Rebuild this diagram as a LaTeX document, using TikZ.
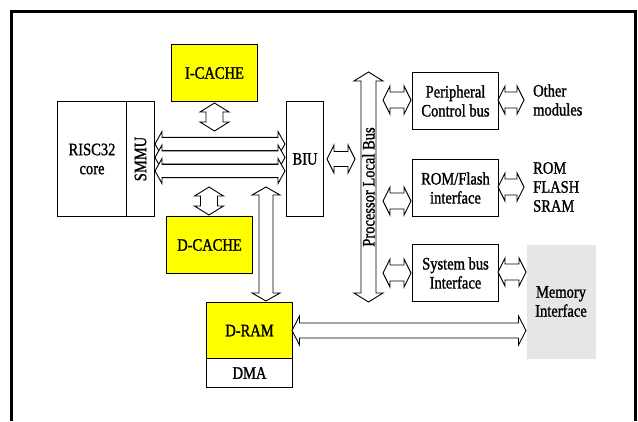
\documentclass[tikz,border=0pt]{standalone}
\usepackage{fontspec}
\setmainfont{Liberation Serif}[FakeStretch=0.83,FakeBold=1.2]
\usetikzlibrary{calc}
\definecolor{cyel}{HTML}{FFFF00}
\definecolor{cgrey}{HTML}{E6E6E6}
\newcommand\fs{\fontsize{17.5}{19}\selectfont}
% horizontal double arrow: left pt, right pt (y from left), body half, head half, head length
\newcommand\harr[5]{%
 \filldraw[darr] let \p1=(#1), \p2=(#2) in
  (\x1,\y1) -- (\x1+#5pt,\y1+#4pt) -- (\x1+#5pt,\y1+#3pt) -- (\x2-#5pt,\y1+#3pt) -- (\x2-#5pt,\y1+#4pt) -- (\x2,\y1)
  -- (\x2-#5pt,\y1-#4pt) -- (\x2-#5pt,\y1-#3pt) -- (\x1+#5pt,\y1-#3pt) -- (\x1+#5pt,\y1-#4pt) -- cycle;}
% vertical double arrow: top pt, bottom pt (x from top)
\newcommand\varr[5]{%
 \filldraw[darr] let \p1=(#1), \p2=(#2) in
  (\x1,\y1) -- (\x1+#4pt,\y1-#5pt) -- (\x1+#3pt,\y1-#5pt) -- (\x1+#3pt,\y2+#5pt) -- (\x1+#4pt,\y2+#5pt) -- (\x1,\y2)
  -- (\x1-#4pt,\y2+#5pt) -- (\x1-#3pt,\y2+#5pt) -- (\x1-#3pt,\y1-#5pt) -- (\x1-#4pt,\y1-#5pt) -- cycle;}
\tikzset{
 darr/.style={fill=white, draw=black, line width=0.9pt, line join=miter},
 box/.style={draw, line width=1pt, inner sep=0pt, anchor=north west, align=center, font=\fs},
 lbl/.style={inner sep=0pt, anchor=west, align=left, font=\fs}
}
\begin{document}
\begin{tikzpicture}[x=1pt,y=-1pt]
\useasboundingbox (0,0) rectangle (638,421);
\draw[line width=3pt] (11.5,421) -- (11.5,11) -- (635,11) -- (635,421);

% boxes
\node[box, minimum width=86, minimum height=57, fill=cyel] (icache) at (171,44) {I-CACHE};
\node[box, minimum width=69, minimum height=115] (risc) at (57,101) {RISC32\\core};
\node[box, minimum width=28, minimum height=115] (smmu) at (126,101) {\rotatebox{90}{SMMU}};
\node[box, minimum width=37, minimum height=115] (biu) at (286,101) {BIU};
\node[box, minimum width=86, minimum height=57, fill=cyel] (dcache) at (166,216) {D-CACHE};
\node[box, minimum width=86, minimum height=56, fill=cyel] (dram) at (206,302) {D-RAM};
\node[box, minimum width=86, minimum height=29] (dma) at (206,358) {DMA};
\node[box, minimum width=86, minimum height=57] (pcb) at (412,72) {Peripheral\\Control bus};
\node[box, minimum width=86, minimum height=57] (rom) at (412,159) {ROM/Flash\\interface};
\node[box, minimum width=86, minimum height=57] (sbi) at (412,244) {System bus\\Interface};
\node[box, draw=none, fill=cgrey, minimum width=69, minimum height=114] (memif) at (526,244) {Memory\\Interface};

\node[lbl] (other) at (533,100) {Other\\modules};
\node[lbl] (romlbl) at (533,187) {ROM\\FLASH\\SRAM};

% coordinates for arrow ends
\coordinate (bus1l) at (155,144); \coordinate (bus1r) at (285,144);
\coordinate (bus2l) at (155,157.5); \coordinate (bus2r) at (285,157.5);
\coordinate (bus3l) at (155,171); \coordinate (bus3r) at (285,171);
\coordinate (icb) at (214,131);
\coordinate (dct) at (209,187);
\coordinate (drt) at (266,187);
\coordinate (biua) at (327,159); \coordinate (plba) at (355,159);
\coordinate (plbt) at (368.5,72); \coordinate (plbb) at (368.5,302);
\coordinate (p1l) at (383,100); \coordinate (p1r) at (411,100);
\coordinate (p2l) at (498,100); \coordinate (p2r) at (524,100);
\coordinate (r1l) at (383,201); \coordinate (r1r) at (411,201);
\coordinate (r2l) at (498,187); \coordinate (r2r) at (524,187);
\coordinate (s1l) at (383,273); \coordinate (s1r) at (411,273);
\coordinate (s2l) at (498,272); \coordinate (s2r) at (526,272);
\coordinate (dml) at (292,330.5); \coordinate (dmr) at (526,330.5);

% bus arrows
\harr{bus1l}{bus1r}{6.6}{12.5}{7}
\harr{bus2l}{bus2r}{6.6}{12.5}{7}
\harr{bus3l}{bus3r}{6.6}{12.5}{7}
% vertical arrows
\varr{$(icache.south)+(0,1)$}{icb}{8.5}{14.5}{9}
\varr{dct}{$(dcache.north)+(0,-1)$}{8.5}{14.5}{9}
\varr{drt}{$(dram.north -| drt)+(0,-1)$}{7}{14}{8}
% BIU to bus
\harr{biua}{plba}{7.5}{14}{7}
% processor local bus
\varr{plbt}{plbb}{7.5}{14.5}{9}
\node[font=\fs, inner sep=0pt] (plbtxt) at (368.5,187) {\rotatebox{90}{Processor Local Bus}};
% small arrows
\harr{p1l}{p1r}{8}{14}{7}
\harr{p2l}{p2r}{8}{14}{7}
\harr{r1l}{r1r}{8}{14}{7}
\harr{r2l}{r2r}{8}{14}{7}
\harr{s1l}{s1r}{8}{14}{7}
\harr{s2l}{s2r}{8}{14}{7}
% D-RAM to memory interface
\harr{dml}{dmr}{7.5}{14.5}{7.5}
\end{tikzpicture}
\end{document}
